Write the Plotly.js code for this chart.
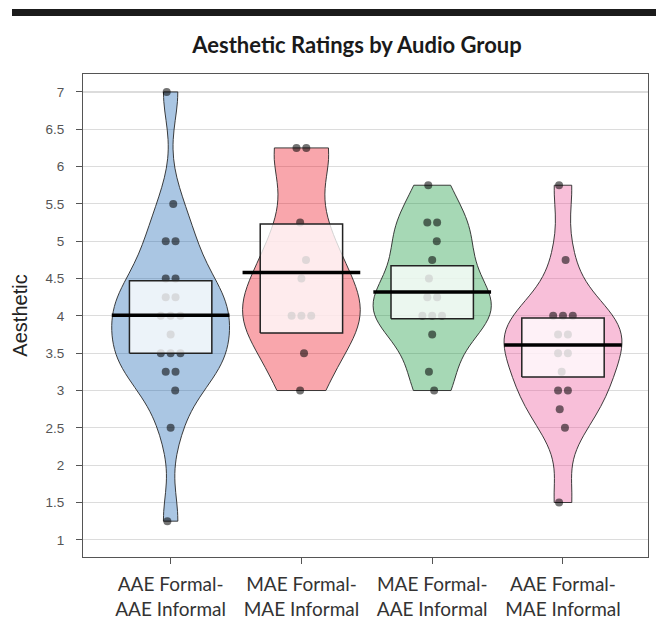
<!DOCTYPE html>
<html>
<head>
<meta charset="utf-8">
<script src="https://cdn.plot.ly/plotly-3.0.1.min.js"></script>
<style>
  html, body { margin: 0; padding: 0; background: #fff; }
  #wrap { position: relative; width: 656px; height: 626px; }
  #bar { position: absolute; left: 12px; top: 9px; width: 644px; height: 7px; background: #1b1b1b; z-index: 5; }
  #chart { position: absolute; left: 0; top: 0; width: 656px; height: 626px; }
</style>
</head>
<body>
<div id="wrap">
  <div id="chart"></div>
  <div id="bar"></div>
</div>
<script>
// ---- data ----
const categories = [
  "AAE Formal-<br>AAE Informal",
  "MAE Formal-<br>MAE Informal",
  "MAE Formal-<br>AAE Informal",
  "AAE Formal-<br>MAE Informal"
];
const aaeFormalAaeInformal = [7, 5.5, 5, 5, 4.5, 4.5, 4.25, 4.25, 4, 4, 4, 3.75, 3.5, 3.5, 3.5, 3.25, 3.25, 3, 2.5, 1.25];
const maeFormalMaeInformal = [6.25, 6.25, 5.25, 4.75, 4.5, 4, 4, 4, 3.5, 3];
const maeFormalAaeInformal = [5.75, 5.25, 5.25, 5, 4.75, 4.5, 4.25, 4.25, 4, 4, 4, 3.75, 3.25, 3];
const aaeFormalMaeInformal = [5.75, 4.75, 4, 4, 4, 3.75, 3.75, 3.5, 3.5, 3.25, 3, 3, 2.75, 2.5, 1.5];
const groupMeans = [4.01, 4.58, 4.32, 3.61];
const infLower = [3.5, 3.77, 3.96, 3.18];
const infUpper = [4.47, 5.23, 4.67, 3.97];
const yTickVals = [1, 1.5, 2, 2.5, 3, 3.5, 4, 4.5, 5, 5.5, 6, 6.5, 7];
const yTickText = ["1", "1.5", "2", "2.5", "3", "3.5", "4", "4.5", "5", "5.5", "6", "6.5", "7"];

const groups = [aaeFormalAaeInformal, maeFormalMaeInformal, maeFormalAaeInformal, aaeFormalMaeInformal];
const fills = ["rgba(12,91,176,0.35)", "rgba(238,0,17,0.35)", "rgba(21,152,61,0.38)", "rgba(236,87,154,0.38)"];

// R's bw.nrd0
function quantile(sorted, p) {
  const h = (sorted.length - 1) * p;
  const lo = Math.floor(h);
  const hi = Math.min(lo + 1, sorted.length - 1);
  return sorted[lo] + (h - lo) * (sorted[hi] - sorted[lo]);
}
function nrd0(v) {
  const n = v.length;
  const m = v.reduce((a, b) => a + b, 0) / n;
  const sd = Math.sqrt(v.reduce((a, b) => a + (b - m) * (b - m), 0) / (n - 1));
  const s = v.slice().sort((a, b) => a - b);
  const iqr = quantile(s, 0.75) - quantile(s, 0.25);
  let lo = Math.min(sd, iqr / 1.34);
  if (!(lo > 0)) lo = sd || 1;
  return 0.9 * lo * Math.pow(n, -0.2);
}
// deterministic horizontal spread of points (no randomness)
function spread(v) {
  const pattern = [-0.03, 0.02, -0.01, 0.035, 0.0, -0.025, 0.015];
  const seen = {};
  const counts = {};
  v.forEach(y => { counts[y] = (counts[y] || 0) + 1; });
  return v.map((y, i) => {
    const k = seen[y] || 0;
    seen[y] = k + 1;
    const m = counts[y];
    return (k - (m - 1) / 2) * 0.075 + (m === 1 ? pattern[i % pattern.length] : 0);
  });
}

const traces = [];
groups.forEach((vals, gi) => {
  traces.push({
    type: "violin",
    x: vals.map(() => gi),
    y: vals,
    spanmode: "hard",
    scalemode: "width",
    width: 0.9,
    bandwidth: nrd0(vals),
    points: false,
    box: { visible: false },
    meanline: { visible: false },
    fillcolor: fills[gi],
    line: { color: "rgba(40,40,40,0.9)", width: 1 },
    hoverinfo: "skip",
    showlegend: false
  });
});
groups.forEach((vals, gi) => {
  const off = spread(vals);
  traces.push({
    type: "scatter",
    mode: "markers",
    x: vals.map((_, i) => gi + off[i]),
    y: vals,
    marker: { size: 8, color: "rgba(0,0,0,0.55)", line: { width: 0 } },
    hoverinfo: "y",
    showlegend: false
  });
});
groups.forEach((vals, gi) => {
  const hw = 0.315;
  traces.push({
    type: "scatter",
    mode: "lines",
    x: [gi - hw, gi + hw, gi + hw, gi - hw, gi - hw],
    y: [infLower[gi], infLower[gi], infUpper[gi], infUpper[gi], infLower[gi]],
    fill: "toself",
    fillcolor: "rgba(255,255,255,0.78)",
    line: { color: "#222", width: 1.5 },
    hoverinfo: "skip",
    showlegend: false
  });
});
groups.forEach((vals, gi) => {
  traces.push({
    type: "scatter",
    mode: "lines",
    x: [gi - 0.45, gi + 0.45],
    y: [groupMeans[gi], groupMeans[gi]],
    line: { color: "#000", width: 3.5 },
    hoverinfo: "skip",
    showlegend: false
  });
});

const layout = {
  width: 656,
  height: 626,
  margin: { l: 83, r: 8, t: 74, b: 69, pad: 0 },
  paper_bgcolor: "#fff",
  plot_bgcolor: "#fff",
  violinmode: "overlay",
  showlegend: false,
  title: {
    text: "<b>Aesthetic Ratings by Audio Group</b>",
    font: { family: "Lato, 'Open Sans', sans-serif", size: 22, color: "#1a1a1a" },
    x: 0.485, xref: "paper",
    y: 1 - 45 / 626, yref: "container", yanchor: "middle"
  },
  xaxis: {
    range: [-0.67, 3.65],
    tickvals: [0, 1, 2, 3],
    ticktext: categories,
    ticks: "outside",
    ticklen: 6,
    tickcolor: "#555",
    tickwidth: 1,
    ticklabelstandoff: 4,
    showline: true,
    mirror: true,
    linecolor: "#555",
    linewidth: 1,
    showgrid: false,
    zeroline: false,
    tickfont: { family: "Lato, sans-serif", size: 19, color: "#333" }
  },
  yaxis: {
    range: [0.77, 7.24],
    tickvals: yTickVals,
    ticktext: yTickText,
    ticks: "outside",
    ticklen: 6,
    tickcolor: "#555",
    tickwidth: 1,
    ticklabelstandoff: 9,
    showline: true,
    mirror: true,
    linecolor: "#555",
    linewidth: 1,
    showgrid: true,
    gridcolor: "#dcdcdc",
    gridwidth: 1.2,
    zeroline: false,
    tickfont: { family: "'Liberation Sans', Arial, sans-serif", size: 13.5, color: "#555" },
    title: {
      text: "Aesthetic",
      font: { family: "'Liberation Sans', Arial, sans-serif", size: 20, color: "#222" },
      standoff: 12
    }
  }
};

Plotly.newPlot("chart", traces, layout, { displayModeBar: false, staticPlot: true });
</script>
</body>
</html>
